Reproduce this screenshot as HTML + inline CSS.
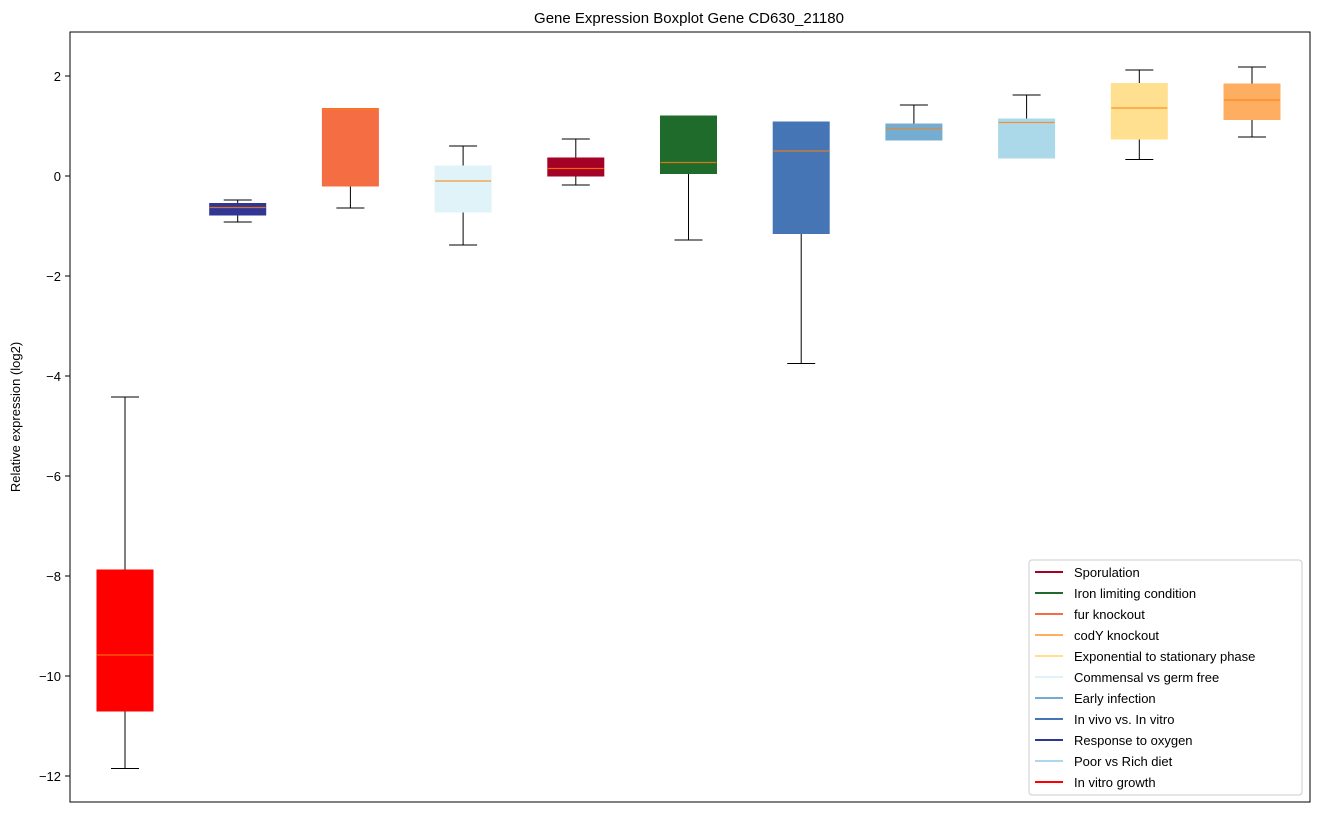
<!DOCTYPE html>
<html><head><meta charset="utf-8"><style>
body{margin:0;background:#fff;font-family:"Liberation Sans","DejaVu Sans",sans-serif}
</style></head><body>
<svg id="chart" width="1318" height="812" xmlns="http://www.w3.org/2000/svg">
<rect width="1318" height="812" fill="#fff"/>
<text x="689" y="23" text-anchor="middle" font-size="15">Gene Expression Boxplot Gene CD630_21180</text>
<text transform="translate(20,417) rotate(-90)" text-anchor="middle" font-size="13">Relative expression (log2)</text>
<g id="marks"></g>
<g id="yaxis"></g>
<rect x="70" y="32" width="1240" height="770" fill="none" stroke="#000" stroke-width="1"/>
<g id="legend"></g>
</svg>
<script>
const categories=["In vitro growth","Response to oxygen","fur knockout","Commensal vs germ free","Sporulation","Iron limiting condition","In vivo vs. In vitro","Early infection","Poor vs Rich diet","Exponential to stationary phase","codY knockout"];
const colors=["#ff0000","#313695","#f46d43","#e0f3f8","#a50026","#1f6b2b","#4575b4","#74add1","#abd9e9","#fee090","#fdae61"];
const whiskerLow=[-11.85,-0.92,-0.64,-1.38,-0.18,-1.28,-3.75,0.72,0.36,0.33,0.78];
const q1=[-10.7,-0.78,-0.2,-0.72,0,0.05,-1.15,0.72,0.36,0.74,1.13];
const median=[-9.58,-0.63,1.33,-0.1,0.15,0.27,0.5,0.95,1.07,1.36,1.52];
const q3=[-7.88,-0.55,1.35,0.2,0.36,1.2,1.08,1.04,1.14,1.85,1.84];
const whiskerHigh=[-4.42,-0.48,1.35,0.6,0.74,1.2,1.08,1.42,1.62,2.12,2.18];
const yTicks=[2,0,-2,-4,-6,-8,-10,-12];
const legendOrder=["Sporulation","Iron limiting condition","fur knockout","codY knockout","Exponential to stationary phase","Commensal vs germ free","Early infection","In vivo vs. In vitro","Response to oxygen","Poor vs Rich diet","In vitro growth"];
const NS="http://www.w3.org/2000/svg";
const y=v=>176-50*v;
const x=i=>125+i*112.7;
function mk(tag,attrs,parent){const e=document.createElementNS(NS,tag);for(const k in attrs)e.setAttribute(k,attrs[k]);parent.appendChild(e);return e;}
const marks=document.getElementById('marks');
categories.forEach((c,i)=>{
  const g=mk('g',{},marks);
  
  
  const cx=x(i),hw=28,cw=14;
  mk('line',{x1:cx,x2:cx,y1:y(whiskerLow[i]),y2:y(q1[i]),stroke:'#000'},g);
  mk('line',{x1:cx,x2:cx,y1:y(q3[i]),y2:y(whiskerHigh[i]),stroke:'#000'},g);
  mk('line',{x1:cx-cw,x2:cx+cw,y1:y(whiskerLow[i]),y2:y(whiskerLow[i]),stroke:'#000'},g);
  mk('line',{x1:cx-cw,x2:cx+cw,y1:y(whiskerHigh[i]),y2:y(whiskerHigh[i]),stroke:'#000'},g);
  const top=y(q3[i]),bot=y(q1[i]);
  mk('rect',{x:cx-hw,y:top,width:2*hw,height:Math.max(bot-top,1.5),fill:colors[i],stroke:colors[i]},g);
  mk('line',{x1:cx-hw,x2:cx+hw,y1:y(median[i]),y2:y(median[i]),stroke:'#ff7f0e','stroke-width':1.2,opacity:0.8},g);
});
const ya=document.getElementById('yaxis');
yTicks.forEach(t=>{
  const g=mk('g',{},ya);
  
  
  mk('line',{x1:65,x2:70,y1:y(t),y2:y(t),stroke:'#000'},g);
  const tx=mk('text',{x:61,y:y(t)+5,'text-anchor':'end','font-size':13},g);
  tx.textContent=t<0?'\u2212'+(-t):String(t);
});
const lg=document.getElementById('legend');
const box=mk('rect',{x:1029,y:560,width:273,height:235,rx:3,fill:'#fff',stroke:'#ccc','fill-opacity':0.8},lg);


legendOrder.forEach((n,k)=>{
  const i=categories.indexOf(n);
  const g=mk('g',{},lg);
  
  
  const yy=572+k*21;
  mk('line',{x1:1035,x2:1063,y1:yy,y2:yy,stroke:colors[i],'stroke-width':2},g);
  const t=mk('text',{x:1074,y:yy+5,'font-size':13},g);
  t.textContent=n;
});
</script>
</body></html>
